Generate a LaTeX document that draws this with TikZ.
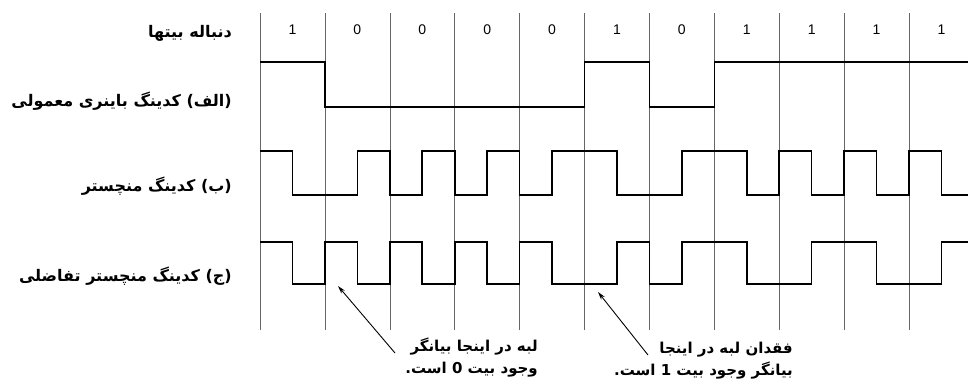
\documentclass[tikz,border=0pt]{standalone}
\usepackage{fontspec}
\setmainfont{Liberation Sans}
\newfontfamily\fa[Script=Arabic]{DejaVu Sans}
\TeXXeTstate=1
\usetikzlibrary{arrows.meta}
\tikzset{
  gridln/.style={draw=black!60, line width=0.6pt},
  sig/.style={draw=black, line width=1.6pt, line join=miter},
  bitlbl/.style={font=\fontsize{14}{16}\selectfont, inner sep=0pt},
  rowlbl/.style={font=\fa\bfseries\fontsize{16}{18}\selectfont, anchor=east, inner sep=0pt},
  note/.style={font=\fa\bfseries\fontsize{15}{22}\selectfont, align=right, anchor=east, inner sep=0pt},
  arr/.style={draw=black, line width=0.9pt, -{Stealth[length=8pt,width=4.5pt]}}
}
\begin{document}
\begin{tikzpicture}[x=1pt,y=-1pt]
\useasboundingbox (0,0) rectangle (968,381);
% grid lines
\foreach \i in {0,...,10}
  \draw[gridln] ({260+64.9*\i},13) -- ({260+64.9*\i},330);
% bit labels
\foreach \b [count=\i from 0] in {1,0,0,0,0,1,0,1,1,1,1}
  \node[bitlbl] (bit\i) at ({292.45+64.9*\i},30) {\b};
% row labels
\node[rowlbl] (lseq) at (232,33) {\beginR دنباله بیتها\endR};
\node[rowlbl] (lbin) at (232,101) {\beginR (الف) کدینگ باینری معمولی\endR};
\node[rowlbl] (lman) at (232,186) {\beginR (ب) کدینگ منچستر\endR};
\node[rowlbl] (ldif) at (232,276) {\beginR (ج) کدینگ منچستر تفاضلی\endR};
% binary
\draw[sig] (260,62) -- (324.9,62) -- (324.9,107) -- (584.5,107) -- (584.5,62) -- (649.4,62) -- (649.4,107) -- (714.3,107) -- (714.3,62) -- (968,62);
% manchester
\draw[sig] (260,151) -- (292.45,151) -- (292.45,195) -- (357.35,195) -- (357.35,151) -- (389.8,151) -- (389.8,195) -- (422.25,195) -- (422.25,151) -- (454.7,151) -- (454.7,195) -- (487.15,195) -- (487.15,151) -- (519.6,151) -- (519.6,195) -- (552.05,195) -- (552.05,151) -- (616.95,151) -- (616.95,195) -- (681.85,195) -- (681.85,151) -- (746.75,151) -- (746.75,195) -- (779.2,195) -- (779.2,151) -- (811.65,151) -- (811.65,195) -- (844.1,195) -- (844.1,151) -- (876.55,151) -- (876.55,195) -- (909,195) -- (909,151) -- (941.45,151) -- (941.45,195) -- (968,195);
% differential manchester
\draw[sig] (260,242) -- (292.45,242) -- (292.45,284) -- (324.9,284) -- (324.9,242) -- (357.35,242) -- (357.35,284) -- (389.8,284) -- (389.8,242) -- (422.25,242) -- (422.25,284) -- (454.7,284) -- (454.7,242) -- (487.15,242) -- (487.15,284) -- (519.6,284) -- (519.6,242) -- (552.05,242) -- (552.05,284) -- (616.95,284) -- (616.95,242) -- (649.4,242) -- (649.4,284) -- (681.85,284) -- (681.85,242) -- (746.75,242) -- (746.75,284) -- (811.65,284) -- (811.65,242) -- (876.55,242) -- (876.55,284) -- (941.45,284) -- (941.45,242) -- (968,242);
% annotations
\node[note] (n1) at (538,357) {\beginR لبه در اینجا بیانگر\endR\\\beginR وجود بیت \beginL 0\endL{} است.\endR};
\node[note] (n2) at (793,361) {\beginR فقدان لبه در اینجا\endR\\\beginR بیانگر وجود بیت \beginL 1\endL{} است.\endR};
\coordinate (t1) at (338,286);
\coordinate (t2) at (598,292);
\draw[arr] ([xshift=-143pt,yshift=4pt]n1.east) -- (t1);
\draw[arr] ([xshift=-145pt,yshift=6pt]n2.east) -- (t2);
\end{tikzpicture}
\end{document}
